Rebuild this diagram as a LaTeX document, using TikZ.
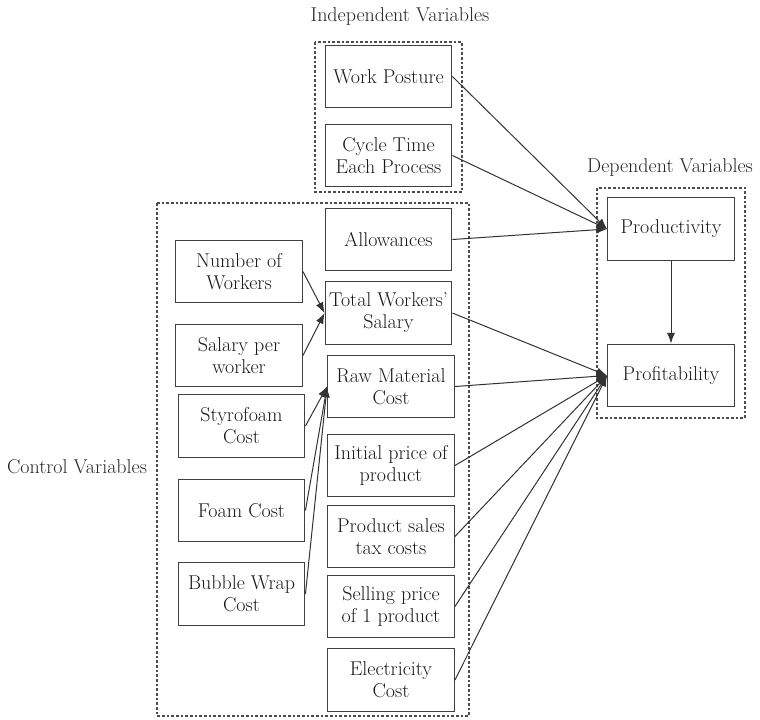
\documentclass[tikz,border=0pt]{standalone}
\usetikzlibrary{arrows.meta}
\tikzset{
  var/.style={draw=black!75, line width=0.9pt, minimum width=95pt, minimum height=47pt,
    align=center, inner sep=1pt, font=\fontsize{15}{16.5}\selectfont, text=black!90},
  grp/.style={draw=black!70, line width=0.9pt, dash pattern=on 2pt off 1.5pt},
  lbl/.style={font=\fontsize{15}{16.5}\selectfont, text=black!85},
  link/.style={draw=black!80, line width=0.75pt, -{Latex[length=8pt,width=6pt]}}
}

\begin{document}
\begin{tikzpicture}[x=0.75pt,y=-0.75pt]
\useasboundingbox (0,0) rectangle (760,719);
% dotted frames round each group
\draw[grp] (315,42) rectangle (462,192);
\draw[grp] (157,203) rectangle (469,716);
\draw[grp] (597,188) rectangle (745,418);
\path
(400,17) node[lbl]{Independent Variables};
\path
(670,168) node[lbl]{Dependent Variables};
\path
(77,467) node[lbl]{Control Variables};
% independent
\node[var] (wp) at (388.5,76.5) {Work Posture};
\node[var] (ct) at (388.5,155.5) {Cycle Time\\Each Process};
% control, right column
\node[var] (allow) at (388.5,239.5) {Allowances};
\node[var] (tws) at (388.5,313) {Total Workers'\\Salary};
\node[var] (rmc) at (391,386.5) {Raw Material\\Cost};
\node[var] (ipp) at (391,465.5) {Initial price of\\product};
\node[var] (tax) at (391,536.5) {Product sales\\tax costs};
\node[var] (sell) at (391,606.5) {Selling price\\of 1 product};
\node[var] (elec) at (391,680) {Electricity\\Cost};
% control, left column
\node[var] (nw) at (239,271.5) {Number of\\Workers};
\node[var] (spw) at (239,355.5) {Salary per\\worker};
\node[var] (styro) at (241.5,426) {Styrofoam\\Cost};
\node[var] (foam) at (241.5,510.5) {Foam Cost};
\node[var] (bubble) at (241.5,594) {Bubble Wrap\\Cost};
% dependent
\node[var] (prod) at (671,229) {Productivity};
\node[var] (prof) at (671,375.5) {Profitability};
% links
\foreach \s in {wp,ct,allow} \draw[link] (\s.east) -- (prod.west);
\foreach \s in {tws,rmc,ipp,tax,sell,elec} \draw[link] (\s.east) -- (prof.west);
\foreach \s in {nw,spw} \draw[link] (\s.east) -- (tws.west);
\foreach \s in {styro,foam,bubble} \draw[link] (\s.east) -- (rmc.west);
\draw[link] (prod) -- (prof);
\end{tikzpicture}
\end{document}
